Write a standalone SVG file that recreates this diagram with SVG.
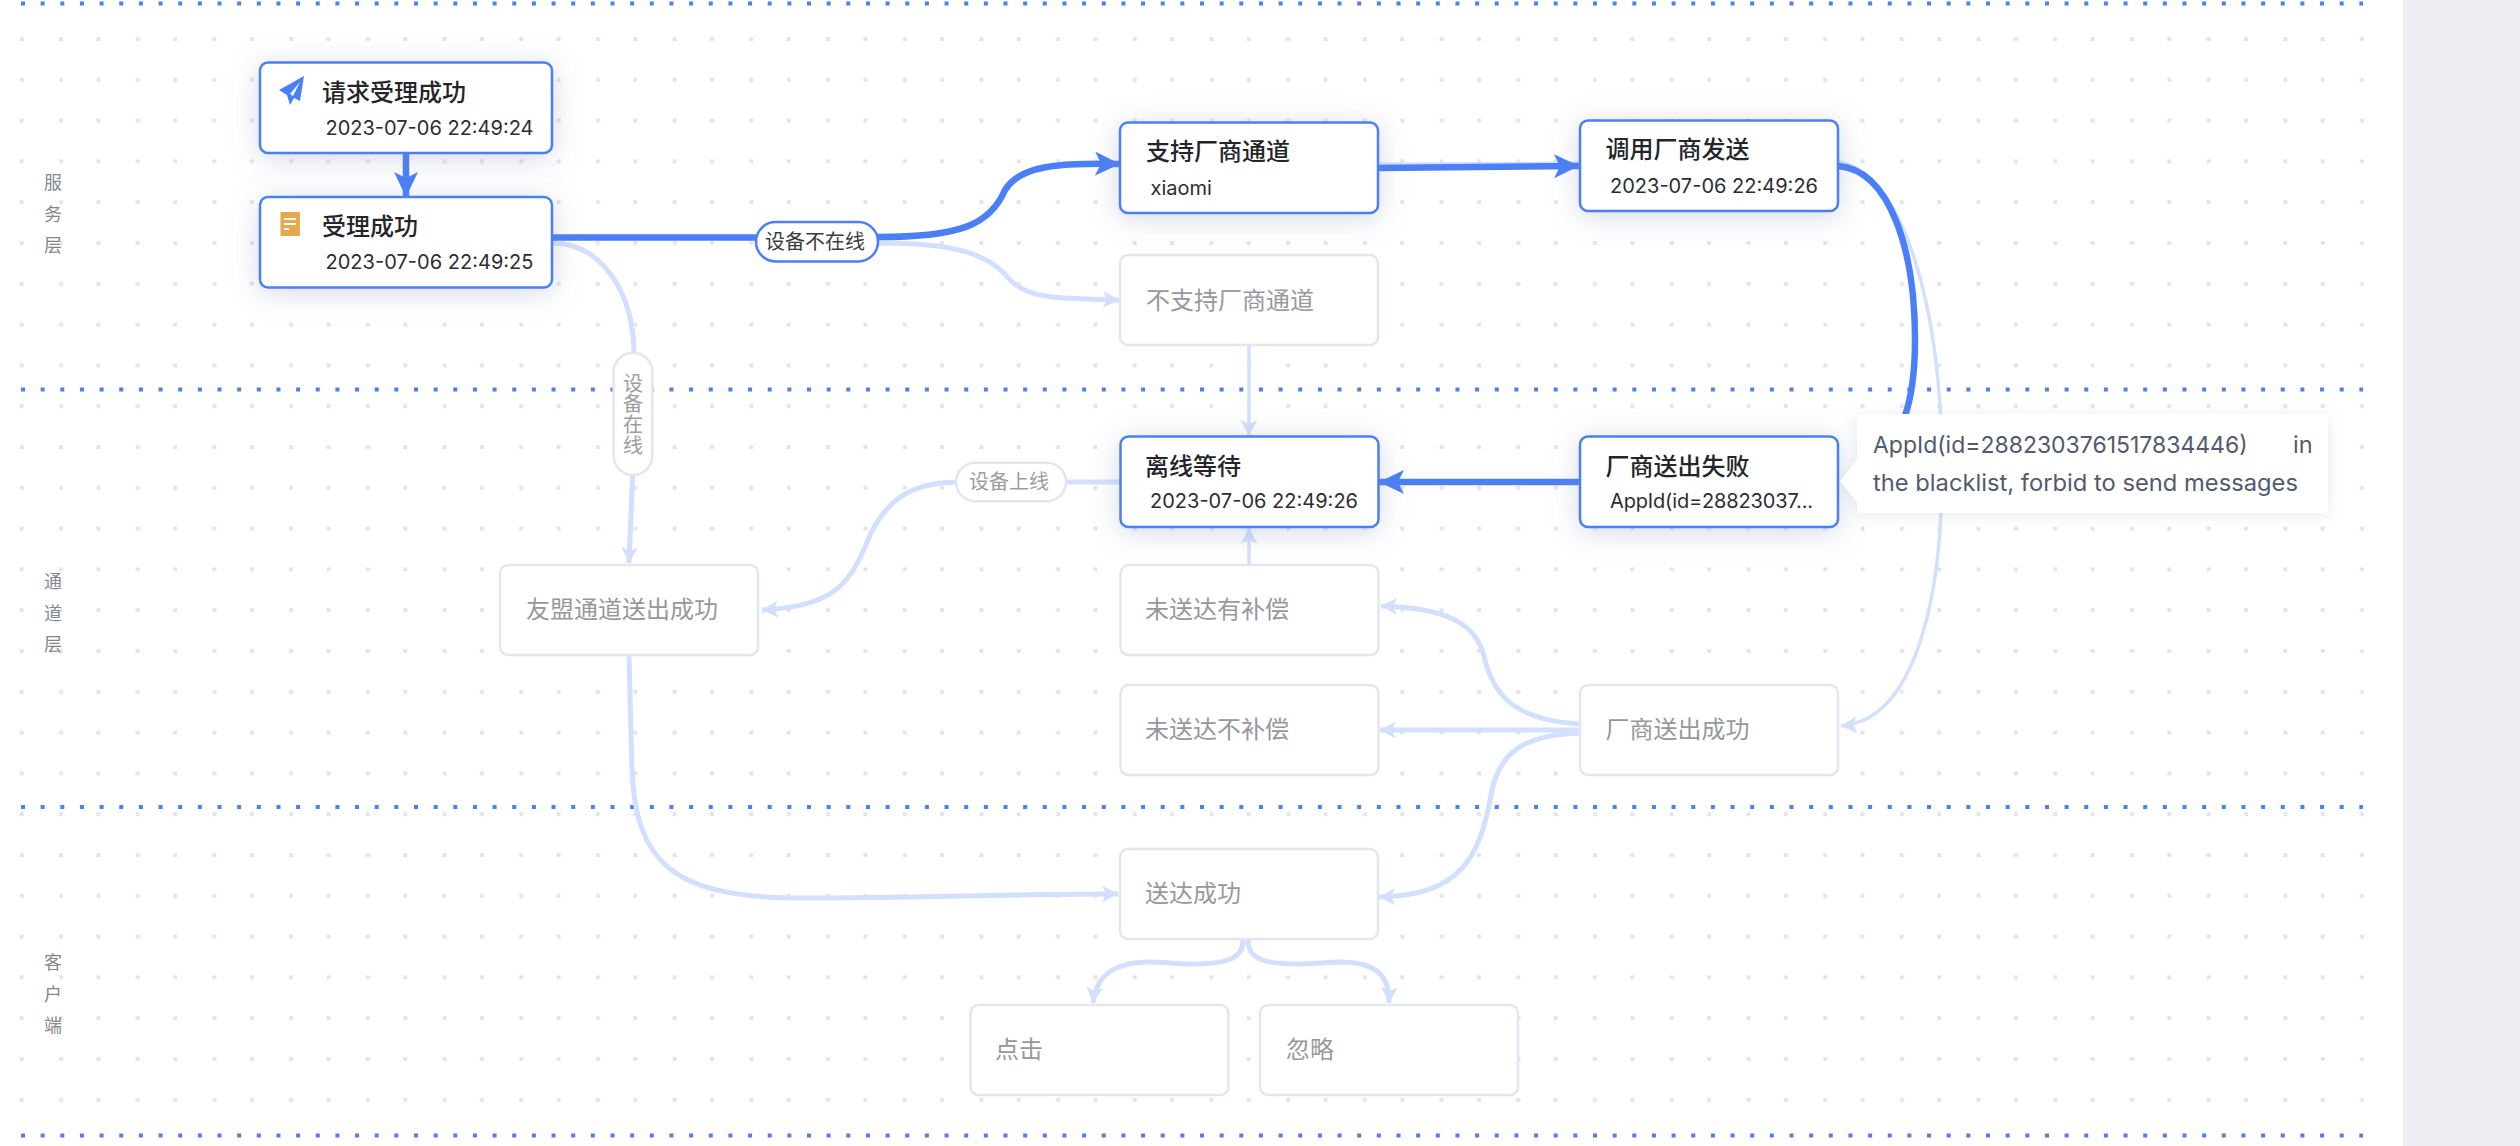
<svg xmlns="http://www.w3.org/2000/svg" width="2520" height="1146" viewBox="0 0 2520 1146">
<style>
.n{fill:#fff;stroke:#4a7ff7;stroke-width:2.5}
.g{fill:#fff;stroke:#e3e6ec;stroke-width:2.5}
.t{font-family:"Noto Sans CJK SC",sans-serif;font-size:24px;font-weight:500;fill:#23252b}
.tg{font-family:"Noto Sans CJK SC",sans-serif;font-size:24px;fill:#97989d}
.d{font-family:Inter,"Noto Sans",sans-serif;font-size:20px;fill:#2b2d33}
.s{font-family:"Noto Sans CJK SC",sans-serif;font-size:20px}
.lane{font-family:"Noto Sans CJK SC",sans-serif;font-size:18px;fill:#85878e;text-anchor:middle}
.sep{stroke:#4a7ff7;stroke-width:4;stroke-dasharray:4 15.65;fill:none}
.e1{fill:none;stroke:#4a7ff7;stroke-width:6.5}
.e2{fill:none;stroke:#d2e0fd;stroke-width:5}
.e3{fill:none;stroke:#d2e0fd;stroke-width:3.5}
.tip{font-family:Inter,"Noto Sans",sans-serif;font-size:23.5px;fill:#515a6e}
</style>
<defs>
<pattern id="dots" patternUnits="userSpaceOnUse" x="19.7" y="37" width="76.7" height="40.8">
<rect x="0" y="0" width="4" height="4" fill="#e3e5eb"/><rect x="39.3" y="0" width="4" height="4" fill="#e3e5eb"/>
</pattern>
<filter id="sh" x="-30%" y="-50%" width="160%" height="200%"><feDropShadow dx="0" dy="4" stdDeviation="14" flood-color="#7d8bb5" flood-opacity=".32"/></filter>
<filter id="ts" x="-10%" y="-30%" width="120%" height="160%"><feDropShadow dx="0" dy="2" stdDeviation="7" flood-color="#7d8bb5" flood-opacity=".2"/></filter>
<marker id="a1" markerUnits="userSpaceOnUse" markerWidth="26" markerHeight="24" refX="25" refY="12" orient="auto"><path d="M0,0 L25,12 L0,24 L6,12 Z" fill="#4a7ff7"/></marker>
<marker id="a2" markerUnits="userSpaceOnUse" markerWidth="17" markerHeight="17" refX="16" refY="8.5" orient="auto"><path d="M0,0 L16,8.5 L0,17 L4,8.5 Z" fill="#d2e0fd"/></marker>
</defs>
<rect width="2520" height="1146" fill="#fff"/>
<rect x="2403" y="0" width="117" height="1146" fill="#edeef3"/>
<g id="background">
<rect x="19" y="36" width="2345" height="1068" fill="url(#dots)"/>
<path class="sep" d="M21,3.5H2363"/>
<path class="sep" d="M21,389.5H2363"/>
<path class="sep" d="M21,807H2363"/>
<path class="sep" d="M21,1135.5H2363"/>
</g>
<g id="lanes">
<text class="lane"><tspan x="53" y="189">服</tspan><tspan x="53" y="221">务</tspan><tspan x="53" y="252">层</tspan></text>
<text class="lane"><tspan x="53" y="588">通</tspan><tspan x="53" y="620">道</tspan><tspan x="53" y="651">层</tspan></text>
<text class="lane"><tspan x="53" y="969">客</tspan><tspan x="53" y="1001">户</tspan><tspan x="53" y="1032">端</tspan></text>
</g>
<g id="connectors">
<path class="e2" d="M552,243C600,243 633,290 634,352"/>
<path class="e2" marker-end="url(#a2)" d="M632.6,475L629,563"/>
<path class="e2" marker-end="url(#a2)" d="M878,243C960,243 990,255 1010,280C1030,300 1060,298 1119,300"/>
<path class="e2" d="M1378,165L1580,164"/>
<path class="e3" marker-end="url(#a2)" d="M1838,162C1900,170 1942,300 1942,470C1942,600 1915,720 1841,726"/>
<path class="e3" marker-end="url(#a2)" d="M1249,345V436"/>
<path class="e3" marker-end="url(#a2)" d="M1249,565V528"/>
<path class="e2" d="M1120,482H1066"/>
<path class="e2" marker-end="url(#a2)" d="M956,482C905,483 885,505 870,535C850,585 835,606 762,610"/>
<path class="e2" marker-end="url(#a2)" d="M629,655L632,770C636,860 670,898 800,898C920,898 1000,894 1118,894"/>
<path class="e2" marker-end="url(#a2)" d="M1580,724C1520,720 1495,700 1485,660C1478,625 1450,608 1381,606"/>
<path class="e2" marker-end="url(#a2)" d="M1580,730H1380"/>
<path class="e2" marker-end="url(#a2)" d="M1580,733C1520,735 1500,755 1492,790C1480,860 1460,895 1379,897"/>
<path class="e2" marker-end="url(#a2)" d="M1243,940C1243,960 1225,964 1190,964C1175,964 1165,962 1150,962C1115,962 1096,975 1093,1003"/>
<path class="e2" marker-end="url(#a2)" d="M1248,940C1248,960 1265,964 1300,964C1315,964 1330,962 1340,962C1375,962 1390,975 1389,1003"/>
<path class="e1" marker-end="url(#a1)" d="M406,153V197"/>
<path class="e1" d="M552,237.5H756"/>
<path class="e1" marker-end="url(#a1)" d="M878,237C960,237 990,225 1005,190C1020,165 1060,163 1120,164"/>
<path class="e1" marker-end="url(#a1)" d="M1378,168L1579,166"/>
<path class="e1" d="M1838,166C1890,170 1915,250 1915,340C1915,400 1905,440 1860,481"/>
<path class="e1" marker-end="url(#a1)" d="M1580,482H1379"/>
</g>
<g id="edge-label-offline"><rect x="756" y="222" width="122" height="39.5" rx="19.7" fill="#fff" stroke="#4a7ff7" stroke-width="2.5"/><text class="s" x="765" y="249" fill="#3a3c42">设备不在线</text></g>
<g id="edge-label-online"><rect x="613.6" y="352.7" width="38.8" height="122.3" rx="19.4" fill="#fff" stroke="#e3e6ec" stroke-width="2.5"/>
<text class="s" fill="#9b9ca1" x="633" y="373" style="writing-mode:vertical-rl;text-orientation:upright;letter-spacing:.7px">设备在线</text></g>
<g id="edge-label-back-online"><rect x="956" y="462.7" width="110" height="38.6" rx="19.3" fill="#fff" stroke="#e3e6ec" stroke-width="2.5"/><text class="s" x="969" y="489" fill="#9b9ca1">设备上线</text></g>
<g id="n-request"><rect class="n" x="260" y="62.5" width="292" height="90.5" rx="8" filter="url(#sh)"/>
<path d="M304,78L279,92L287,97L290,107L294,100L300,103Z M290,96L300,84L293,98Z" transform="translate(0,-2)" fill="#4a7ff7" fill-rule="evenodd"/>
<text class="t" x="322" y="101">请求受理成功</text><text class="d" x="325.5" y="135" textLength="208">2023-07-06 22:49:24</text></g>
<g id="n-accepted"><rect class="n" x="260" y="197" width="292" height="90.5" rx="8" filter="url(#sh)"/>
<rect x="280.5" y="212" width="19.5" height="24" fill="#e8a84c"/><path d="M284,219H296M284,224H296M284,229H289" stroke="#fff" stroke-width="2" fill="none"/>
<text class="t" x="322" y="235">受理成功</text><text class="d" x="325.5" y="269" textLength="208">2023-07-06 22:49:25</text></g>
<g id="n-vendor"><rect class="n" x="1120" y="122.5" width="258" height="90.5" rx="8" filter="url(#sh)"/><text class="t" x="1146" y="160">支持厂商通道</text><text class="d" x="1150.5" y="195">xiaomi</text></g>
<g id="n-call"><rect class="n" x="1580" y="120.5" width="258" height="90.5" rx="8" filter="url(#sh)"/><text class="t" x="1605.5" y="158">调用厂商发送</text><text class="d" x="1610" y="193" textLength="208">2023-07-06 22:49:26</text></g>
<g id="n-novendor"><rect class="g" x="1120" y="255" width="258" height="90" rx="8"/><text class="tg" x="1146" y="309">不支持厂商通道</text></g>
<g id="n-wait"><rect class="n" x="1120.5" y="436.5" width="258" height="90.5" rx="8" filter="url(#sh)"/><text class="t" x="1145" y="475">离线等待</text><text class="d" x="1150" y="508" textLength="208">2023-07-06 22:49:26</text></g>
<g id="n-fail"><rect class="n" x="1580" y="436.5" width="258" height="90.5" rx="8" filter="url(#sh)"/><text class="t" x="1605.5" y="475">厂商送出失败</text><text class="d" x="1610" y="508" textLength="203">AppId(id=28823037...</text></g>
<g id="n-umeng"><rect class="g" x="500" y="565" width="258" height="90" rx="8"/><text class="tg" x="526" y="618">友盟通道送出成功</text></g>
<g id="n-comp"><rect class="g" x="1120.5" y="565" width="258" height="90" rx="8"/><text class="tg" x="1145" y="618">未送达有补偿</text></g>
<g id="n-nocomp"><rect class="g" x="1120.5" y="685" width="258" height="90" rx="8"/><text class="tg" x="1145" y="738">未送达不补偿</text></g>
<g id="n-vendor-ok"><rect class="g" x="1580" y="685" width="258" height="90" rx="8"/><text class="tg" x="1605.5" y="738">厂商送出成功</text></g>
<g id="n-delivered"><rect class="g" x="1120" y="849" width="258" height="90" rx="8"/><text class="tg" x="1145" y="902">送达成功</text></g>
<g id="n-click"><rect class="g" x="970.5" y="1005" width="258" height="90" rx="8"/><text class="tg" x="995" y="1058">点击</text></g>
<g id="n-ignore"><rect class="g" x="1260" y="1005" width="258" height="90" rx="8"/><text class="tg" x="1286" y="1058">忽略</text></g>
<g id="tooltip"><path d="M1857,414H2324a4,4 0 0 1 4,4V509a4,4 0 0 1 -4,4H1861a4,4 0 0 1 -4,-4V502L1840,481L1857,460Z" fill="#fff" filter="url(#ts)"/>
<text class="tip" x="1873" y="453" textLength="374.6" lengthAdjust="spacingAndGlyphs">AppId(id=2882303761517834446)</text><text class="tip" x="2293" y="453">in</text>
<text class="tip" x="1873" y="490.5" textLength="425" lengthAdjust="spacingAndGlyphs">the blacklist, forbid to send messages</text></g>
</svg>
